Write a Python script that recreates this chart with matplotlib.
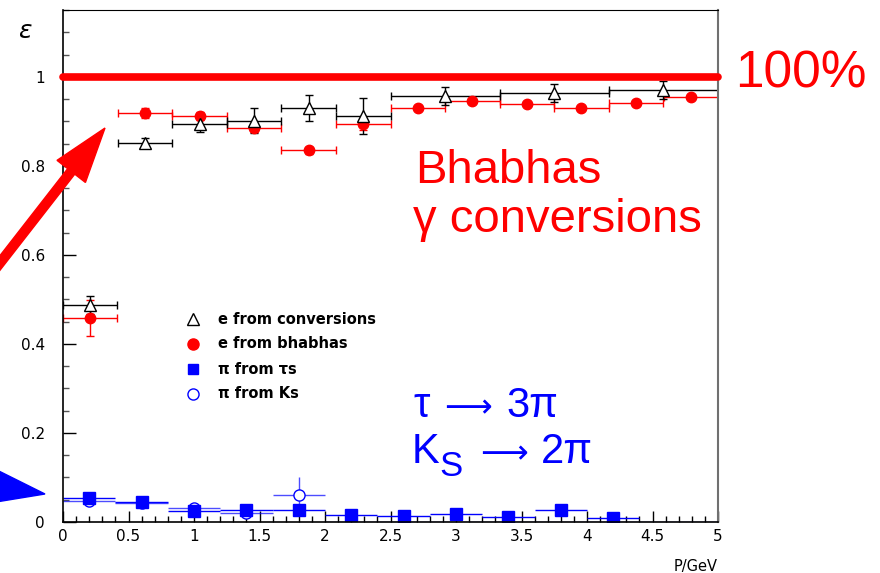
import matplotlib
matplotlib.use('Agg')
import matplotlib.pyplot as plt
from matplotlib.patches import FancyArrow
from matplotlib.ticker import MultipleLocator, FormatStrFormatter

plt.rcParams['font.family'] = ['DejaVu Sans']

# e from conversions (open triangles)
conv_p = [0.208, 0.625, 1.042, 1.458, 1.875, 2.292, 2.917, 3.750, 4.583]
conv_dp = [0.208, 0.208, 0.208, 0.208, 0.208, 0.208, 0.417, 0.417, 0.417]
conv_eff = [0.488, 0.852, 0.894, 0.901, 0.930, 0.912, 0.957, 0.964, 0.971]
conv_err = [0.020, 0.010, 0.017, 0.028, 0.030, 0.040, 0.020, 0.020, 0.020]

# e from bhabhas (red dots)
bha_p = [0.208, 0.625, 1.042, 1.458, 1.875, 2.292, 2.708, 3.125, 3.542, 3.958, 4.375, 4.792]
bha_dp = [0.208] * 12
bha_eff = [0.458, 0.919, 0.912, 0.886, 0.835, 0.894, 0.931, 0.946, 0.939, 0.930, 0.941, 0.955]
bha_err = [0.040, 0.012, 0.010, 0.010, 0.008, 0.013, 0.004, 0.004, 0.004, 0.004, 0.004, 0.004]

# pi from taus (blue squares)
tau_p = [0.2, 0.6, 1.0, 1.4, 1.8, 2.2, 2.6, 3.0, 3.4, 3.8, 4.2]
tau_dp = [0.2] * 11
tau_eff = [0.053, 0.044, 0.025, 0.026, 0.026, 0.016, 0.013, 0.019, 0.012, 0.027, 0.010]
tau_err = [0.004, 0.004, 0.004, 0.004, 0.004, 0.003, 0.003, 0.004, 0.003, 0.008, 0.003]

# pi from Ks (open blue circles), empty bins above 2 GeV
ks_p = [0.2, 0.6, 1.0, 1.4, 1.8, 2.2, 2.6, 3.0, 3.4, 3.8, 4.2, 4.6, 5.0]
ks_dp = [0.2] * 13
ks_eff = [0.047, 0.043, 0.031, 0.020, 0.061, 0, 0, 0, 0, 0, 0, 0, 0]
ks_err = [0.004, 0.004, 0.006, 0.006, 0.040, 0, 0, 0, 0, 0, 0, 0, 0]

legend_labels = ['e from conversions', 'e from bhabhas', u'\u03c0 from \u03c4s', u'\u03c0 from Ks']

RED = '#ff0000'
BLUE = '#0000ff'
W, H = 880, 573

fig = plt.figure(figsize=(8.8, 5.73), dpi=100)
ax = fig.add_axes([63 / W, 1 - 522 / H, 655 / W, 512 / H])


def ftext(x, y, s, **kw):
    # place text by pixel position measured from the top-left corner
    return fig.text(x / W, 1 - y / H, s, **kw)


# blue histograms first so they sit under the electron points
ax.errorbar(ks_p, ks_eff, xerr=ks_dp, yerr=ks_err, fmt='none', ecolor=BLUE,
            elinewidth=1.0, alpha=0.7, capsize=0)
ks_mask = [e > 0 for e in ks_eff]
ax.plot([p for p, m in zip(ks_p, ks_mask) if m], [e for e, m in zip(ks_eff, ks_mask) if m],
        'o', ms=8, mfc='white', mec=BLUE, mew=1.0, ls='none')
ax.errorbar(tau_p, tau_eff, xerr=tau_dp, yerr=tau_err, fmt='s', ms=8, color=BLUE,
            ecolor=BLUE, elinewidth=1.0, capsize=0)

ax.errorbar(bha_p, bha_eff, xerr=bha_dp, yerr=bha_err, fmt='o', ms=7.5, color=RED,
            ecolor=RED, elinewidth=1.0, capsize=3, capthick=1.0)
ax.errorbar(conv_p, conv_eff, xerr=conv_dp, yerr=conv_err, fmt='^', ms=8, mfc='white',
            mec='black', mew=1.0, ecolor='black', elinewidth=1.0, capsize=3, capthick=1.0)

# 100% efficiency line
ax.plot([0, 5], [1, 1], color=RED, lw=5.5, solid_capstyle='round', clip_on=False, zorder=5)

ax.set_xlim(0, 5)
ax.set_ylim(0, 1.15)
ax.xaxis.set_major_locator(MultipleLocator(0.5))
ax.xaxis.set_minor_locator(MultipleLocator(0.1))
ax.yaxis.set_major_locator(MultipleLocator(0.2))
ax.yaxis.set_minor_locator(MultipleLocator(0.05))
ax.xaxis.set_major_formatter(FormatStrFormatter('%g'))
ax.yaxis.set_major_formatter(FormatStrFormatter('%g'))
ax.tick_params(axis='both', which='both', direction='in', top=False, right=False,
               labelsize=11, width=1.0)
ax.tick_params(axis='x', which='major', length=8, pad=5)
ax.tick_params(axis='x', which='minor', length=4)
ax.tick_params(axis='y', which='major', length=9, pad=13)
ax.tick_params(axis='y', which='minor', length=4.5, color='#555555')

for side in ['left', 'bottom']:
    ax.spines[side].set_linewidth(1.2)
ax.spines['top'].set_linewidth(0.8)
ax.spines['right'].set_linewidth(1.5)
ax.spines['right'].set_color('#707070')

# legend drawn by hand in axes coordinates
leg_styles = [dict(marker='^', mfc='white', mec='black', ms=8),
              dict(marker='o', mfc=RED, mec=RED, ms=8),
              dict(marker='s', mfc=BLUE, mec=BLUE, ms=7.5),
              dict(marker='o', mfc='white', mec=BLUE, ms=8)]
for i, (lab, st) in enumerate(zip(legend_labels, leg_styles)):
    yf = (522 - (319 + 25 * i)) / 512
    ax.plot([0.198], [yf], transform=ax.transAxes, ls='none', mew=1.0, clip_on=False, **st)
    ax.text(0.237, yf, lab, transform=ax.transAxes, va='center', ha='left',
            fontsize=10.5, fontweight='bold')

ftext(25, 31, u'\u03b5', fontsize=18, ha='center', va='center', style='italic')
ftext(718, 566, 'P/GeV', fontsize=10.5, ha='right', va='center')

big = ['Liberation Sans', 'DejaVu Sans']
ftext(735, 88, '100%', color=RED, fontsize=37, family=big, va='baseline')
ftext(415, 183, 'Bhabhas', color=RED, fontsize=34, family=big, va='baseline')
ftext(413, 232, u'\u03b3 conversions', color=RED, fontsize=34, family=big, va='baseline')

# decay labels, built piece by piece so the arrow stays thin and K gets its subscript
blue_kw = dict(color=BLUE, family=big, va='baseline')
arr = u'\u27f6'
ftext(413, 417, u'\u03c4', fontsize=30, **blue_kw)
ftext(444, 417, arr, fontsize=24, **blue_kw)
ftext(506, 417, u'3\u03c0', fontsize=30, **blue_kw)
ftext(412, 463, 'K', fontsize=30, **blue_kw)
ftext(439, 476, 'S', fontsize=25, **blue_kw)
ftext(480, 463, arr, fontsize=24, **blue_kw)
ftext(541, 463, u'2\u03c0', fontsize=30, **blue_kw)

# pointer arrows (figure inches)
fig.add_artist(FancyArrow(-0.25, 2.78, 1.30, 1.67, width=0.09, head_width=0.36,
                          head_length=0.55, length_includes_head=True, color=RED,
                          transform=fig.dpi_scale_trans))
fig.add_artist(FancyArrow(-1.6, 1.10, 2.05, -0.31, width=0.10, head_width=0.40,
                          head_length=0.62, length_includes_head=True, color=BLUE,
                          transform=fig.dpi_scale_trans))

fig.savefig('out.png', dpi=100)
